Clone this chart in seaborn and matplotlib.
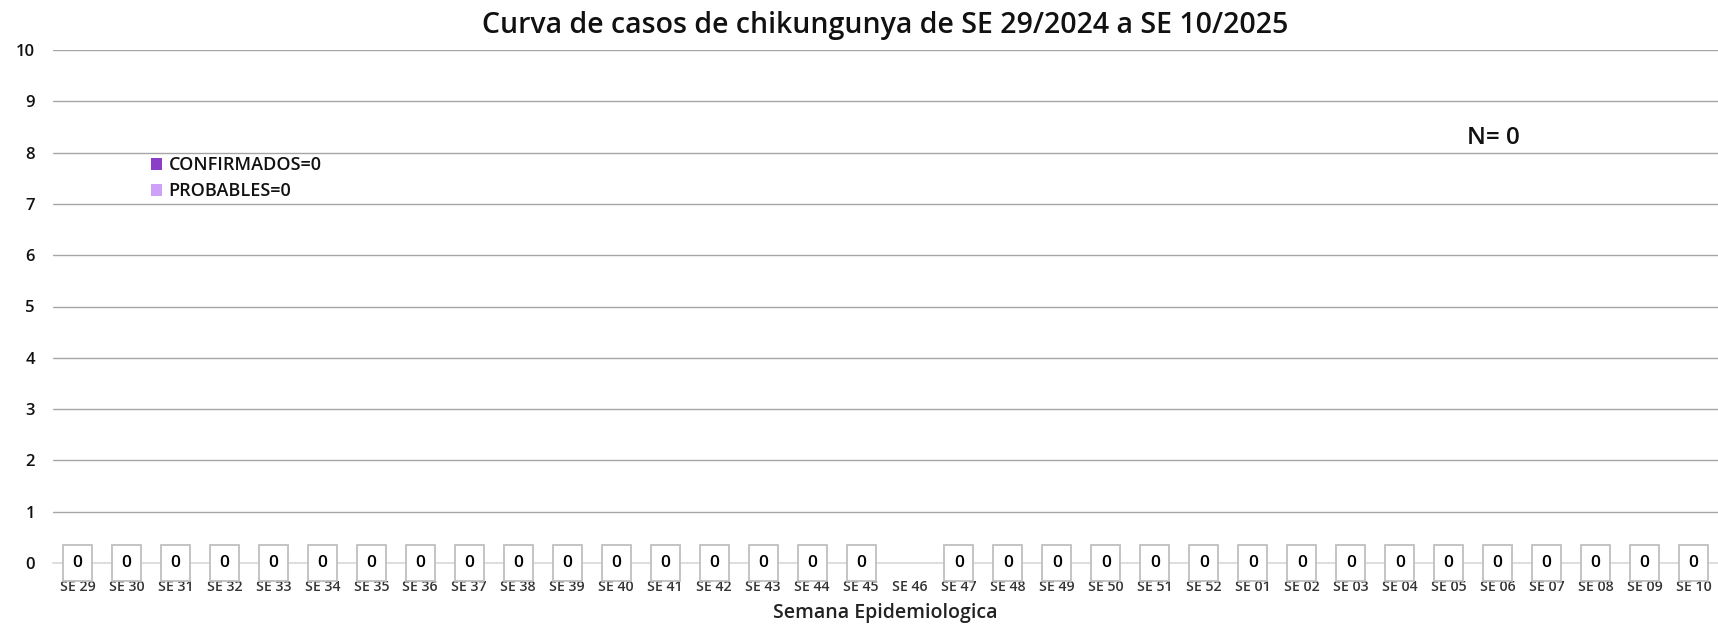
import matplotlib
matplotlib.use("Agg")
import matplotlib.pyplot as plt
import seaborn as sns
import numpy as np
import pandas as pd
from matplotlib.patches import Patch

weeks = [f"SE {w}" for w in range(29, 53)] + [f"SE {w:02d}" for w in range(1, 11)]
confirmados = [0] * 34
probables = [0] * 34
# SE 46 has no data in the reference
confirmados[17] = np.nan
probables[17] = np.nan

title = "Curva de casos de chikungunya de SE 29/2024 a SE 10/2025"
xlabel = "Semana Epidemiologica"
legend_labels = ["CONFIRMADOS=0", "PROBABLES=0"]
total_label = "N= 0"

col_conf = "#8b3fc8"
col_prob = "#cfa0f7"

sns.set_theme(style="white")
plt.rcParams['font.family'] = ['Open Sans', 'DejaVu Sans']

df = pd.DataFrame({"semana": weeks, "confirmados": confirmados, "probables": probables})
df["total"] = df["confirmados"] + df["probables"]

fig = plt.figure(figsize=(17.18, 6.30), dpi=100)
ax = fig.add_axes([53 / 1718, 1 - 563 / 630, 1 - 53 / 1718, (563 - 50) / 630])

sns.barplot(data=df, x="semana", y="total", color=col_prob, ax=ax, width=0.6, order=weeks)
sns.barplot(data=df, x="semana", y="confirmados", color=col_conf, ax=ax, width=0.6, order=weeks)

ax.set_ylim(0, 10)
ax.set_xlim(-0.5, len(weeks) - 0.5)
ax.set_yticks(range(0, 11))
ax.yaxis.grid(True, color="#a6a6a6", linewidth=1)
ax.set_axisbelow(True)
for s in ["top", "right", "left"]:
    ax.spines[s].set_visible(False)
ax.spines["bottom"].set_color("#d9d9d9")
ax.spines["bottom"].set_linewidth(1.2)

ax.tick_params(axis="y", length=0, pad=13, labelsize=12)
for t in ax.get_yticklabels():
    t.set_fontweight("semibold")
    t.set_color("#111111")
ax.tick_params(axis="x", which="major", length=0, pad=12.5, labelsize=10.2)
for t in ax.get_xticklabels():
    t.set_fontweight("semibold")
    t.set_color("#333333")
ax.set_xticks(np.arange(-0.5, len(weeks), 1.0), minor=True)
ax.tick_params(axis="x", which="minor", length=4, color="#d9d9d9", width=1.2, direction="out")

ax.set_xlabel(xlabel, fontsize=14, fontweight="semibold", color="#222222", labelpad=6)
ax.set_ylabel("")
ax.set_title(title, fontsize=20.5, fontweight="semibold", color="#111111", pad=12)

for i, v in enumerate(df["total"]):
    if not np.isnan(v):
        ax.text(i, v, f"{int(v)}", ha="center", va="center", fontsize=12.5, color="#000000",
                fontweight="semibold",
                bbox=dict(boxstyle="square,pad=0.55", facecolor="white", edgecolor="#bfbfbf", linewidth=1.3),
                zorder=5)

handles = [Patch(facecolor=col_conf, edgecolor="none"), Patch(facecolor=col_prob, edgecolor="none")]
leg = fig.legend(handles, legend_labels, loc="upper left", bbox_to_anchor=(144 / 1718, 1 - 149 / 630),
                 frameon=False, handlelength=0.6, handleheight=0.6, handletextpad=0.35,
                 labelspacing=0.45, borderaxespad=0,
                 prop={"weight": "semibold", "size": 13})
for t in leg.get_texts():
    t.set_color("#111111")

fig.text(1467 / 1718, 1 - 138 / 630, total_label, fontsize=17.5, fontweight="semibold",
         ha="left", va="center", color="#111111")

fig.savefig("out.png", dpi=100)
